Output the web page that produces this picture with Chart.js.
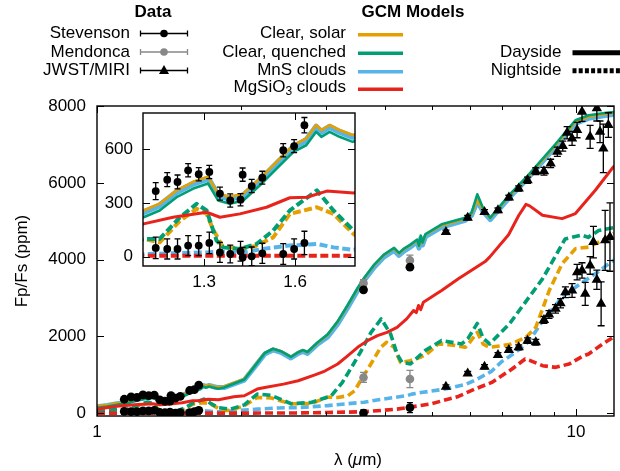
<!DOCTYPE html>
<html><head><meta charset="utf-8">
<script src="https://cdn.jsdelivr.net/npm/chart.js@4"></script>
<style>
html,body{margin:0;padding:0;background:#fff;}
#wrap{position:relative;width:620px;height:471px;overflow:hidden;}
#main{position:absolute;left:0;top:0;}
#inset{position:absolute;left:95px;top:100px;}
</style></head><body>
<div id="wrap">
<canvas id="main" width="620" height="471" style="width:620px;height:471px"></canvas>
<canvas id="inset" width="265" height="200" style="width:265px;height:200px"></canvas>
</div>
<script>
// ---------------- DATA ----------------
// GCM dayside models (solid)
const wlDay = [1.0,1.05,1.10,1.153,1.209,1.264,1.313,1.346,1.385,1.429,1.484,1.55,1.595,1.637,1.67,1.687,1.714,1.747,1.79,1.84,1.97,2.03,2.13,2.24,2.33,2.42,2.54,2.63,2.69,2.75,2.89,3.03,3.18,3.34,3.50,3.61,3.79,3.97,4.17,4.27,4.38,4.51,4.66,4.70,4.74,4.78,4.85,5.24,5.87,6.05,6.22,6.40,6.62,7.25,7.98,9.06,9.97,10.62,11.68,12.0];
const mnsDay = [170,205,248,286,360,408,436,342,323,342,426,538,613,650,725,697,725,697,669,670,804,866,1196,1545,1649,1587,1440,1561,1613,1561,1806,1990,2328,2761,3197,3458,3805,4066,4241,4111,4230,4327,4458,4300,4560,4380,4600,4850,5024,5150,5520,5250,5040,5610,6154,6937,7548,7678,7765,7780];
const solarDay = [180,215,258,296,370,418,446,352,333,352,436,548,623,660,735,707,735,707,679,700,834,896,1226,1575,1679,1617,1470,1591,1643,1591,1836,2040,2378,2811,3247,3508,3855,4116,4291,4161,4280,4377,4508,4350,4610,4430,4650,4890,5064,5190,5560,5290,5080,5650,6194,6977,7588,7718,7805,7820];
const quenchDay = [142,177,220,258,332,380,408,314,295,314,398,510,585,622,697,669,697,669,641,670,814,880,1216,1570,1680,1617,1470,1590,1645,1595,1850,2055,2393,2826,3262,3523,3870,4131,4306,4176,4295,4392,4523,4365,4625,4445,4665,4920,5094,5220,5700,5330,5090,5680,6224,7010,7630,7760,7830,7840];
const wlMgDay = [1.0,1.10,1.197,1.308,1.352,1.418,1.506,1.583,1.639,1.705,1.793,1.93,2.03,2.16,2.24,2.45,2.63,2.85,2.99,3.18,3.34,3.50,3.67,3.85,4.03,4.23,4.43,4.58,4.64,4.69,4.74,4.80,5.24,5.68,6.19,6.46,6.60,7.23,7.59,7.86,8.0,8.51,9.35,9.97,10.97,11.96,12.0];
const mgDay = [110,183,220,248,220,239,276,329,332,366,355,430,457,631,674,760,848,1000,1100,1283,1501,1718,1892,2023,2109,2239,2458,2675,2620,2806,2700,2892,3197,3502,3805,3950,4066,4650,5150,5440,5400,5155,5068,5199,5807,6415,6430];

// GCM nightside models (dashed)
const wlMnsNight = [1.0,1.10,1.20,1.31,1.36,1.42,1.50,1.58,1.672,1.727,1.79,1.9,2.16,2.4,2.63,3.03,3.61,4.1,4.44,4.54,4.75,5.33,5.9,6.2,6.67,7.0,7.5,7.86,8.2,8.51,9.35,9.97,10.97,11.96,12.0];
const mnsNight = [20,15,19,24,28,22,45,62,71,52,38,60,109,140,150,200,290,400,460,500,540,631,760,880,1100,1350,1600,1800,2100,2400,3022,3283,3633,3980,3990];
const wlSolarNight = [1.0,1.10,1.153,1.22,1.275,1.308,1.33,1.36,1.42,1.47,1.528,1.583,1.672,1.727,1.793,1.84,1.9,2.03,2.16,2.31,2.54,2.8,3.03,3.18,3.34,3.45,3.55,3.73,3.91,4.02,4.17,4.30,4.51,4.73,4.88,5.16,5.5,5.87,6.0,6.22,6.40,6.60,7.26,7.86,8.24,8.79,9.35,9.97,10.62,11.34,11.96,12.0];
const solarNight = [60,99,80,200,267,240,150,60,43,60,108,239,276,239,127,70,80,196,413,400,248,256,420,413,457,587,848,1283,1718,1848,1718,1327,1370,1457,1545,1805,1780,1718,1850,2109,1800,1718,1790,1979,2240,3197,3894,4285,4327,4502,4677,4690];
const wlQuenchNight = [1.0,1.10,1.153,1.22,1.275,1.308,1.341,1.363,1.418,1.473,1.528,1.583,1.672,1.727,1.793,1.9,2.03,2.16,2.31,2.54,2.80,3.08,3.25,3.40,3.55,3.73,3.92,4.1,4.23,4.33,4.51,4.84,5.24,5.77,5.95,6.22,6.40,6.60,7.26,8.51,9.49,10.29,10.6,11.15,11.96,12.0];
const quenchNight = [60,99,99,220,295,258,90,52,43,71,146,258,370,258,146,109,220,500,470,250,283,450,800,1200,1600,2100,2458,2067,1545,1327,1283,1631,1892,1805,1950,2340,1950,1806,2328,3500,4540,4640,4580,4760,4830,4840];
const wlMgNight = [1.0,2.0,2.6,3.0,3.61,4.23,4.96,5.68,6.15,6.67,7.35,7.83,8.0,8.51,9.06,9.67,10.3,10.62,11.35,11.96,12.0];
const mgNight = [5,5,10,20,40,109,240,440,631,805,1153,1414,1380,1240,1196,1283,1480,1545,1800,1979,1990];

// Stevenson HST/WFC3
const wfc3Wl = [1.140,1.178,1.212,1.247,1.282,1.317,1.352,1.386,1.420,1.427,1.457,1.492,1.561,1.597,1.631];
const wfc3Day = [366,430,417,482,460,473,352,314,318,458,394,441,594,617,734];
const wfc3DayErr = [47,39,39,37,37,37,36,37,34,37,37,36,37,36,43];
const wfc3Night = [49,43,43,62,62,77,24,15,30,-4,2,19,15,43,77];
const wfc3NightErr = [60,56,56,56,56,60,56,50,55,56,52,56,58,56,65];
// Spitzer (Stevenson, Mendonca)
const spitzerWl = [3.6,4.5];
const stevSpDay = [3215,3805];
const stevSpDayErr = [50,60];
const stevSpNight = [5,150];
const stevSpNightErr = [90,130];
const mendDay = [3388,3980];
const mendDayErr = [90,140];
const mendNight = [934,893];
const mendNightErr = [130,226];
// JWST/MIRI
const miriDayWl = [5.35,5.94,6.44,6.87,7.24,7.59,7.92,8.24,8.57,8.85,9.14,9.38,9.58,9.81,10.05,10.29,10.70,11.05,11.22,11.40,11.68];
const miriDay = [4719,5094,5241,5285,5617,5852,6068,6303,6303,6504,6807,6956,7303,7157,7373,7851,7198,7940,7329,6896,7504];
const miriDayErr = [50,55,60,60,60,70,80,90,100,110,120,130,160,180,200,250,300,330,280,630,320];
const miriNightWl = [5.35,5.94,6.44,6.87,7.24,7.59,7.92,8.24,8.57,8.78,9.06,9.28,9.50,9.81,10.05,10.29,10.45,10.70,10.87,11.05,11.28,11.50,11.77];
const miriNight = [692,1039,1214,1519,1650,1717,1892,1848,2432,2571,2720,2866,3153,3197,3675,3719,3111,3850,4458,3476,2850,4502,4588];
const miriNightErr = [50,50,55,60,60,65,70,75,90,100,110,120,140,180,200,200,300,230,410,250,570,780,890];

// ticks
const mainXLabels = [1,10];
const mainXMinor = [2,3,4,5,6,7,8,9];
const mainYTicks = [0,2000,4000,6000,8000];
const insetXTicks = [1.3,1.6];
const insetYTicks = [0,300,600];

// ---------------- STYLE ----------------
const FONT = '"Liberation Sans", Arial, Helvetica, sans-serif';
const C_ORANGE='#E69F00', C_GREEN='#009E73', C_BLUE='#56B4E9', C_RED='#E8231B', C_GRAY='#888888';
Chart.defaults.font.family = FONT;
Chart.defaults.color = '#000';

function pts(xs, ys){ return xs.map((x,i)=>({x:x, y:ys[i]})); }
function lineDs(xs, ys, color, width, dash, order){
  return {data:pts(xs,ys), showLine:true, borderColor:color, backgroundColor:color, borderWidth:width,
    borderDash:dash||[], borderCapStyle:dash?'butt':'round', borderJoinStyle:'round',
    pointRadius:0, pointHoverRadius:0, fill:false, tension:0, order:order, clip:0};
}
function ptDs(xs, ys, errs, color, style, radius, cap, order){
  return {data:pts(xs,ys), showLine:false, pointStyle:style, pointRadius:radius, pointHoverRadius:radius,
    pointBackgroundColor:color, pointBorderColor:color, pointBorderWidth:0,
    errs:errs, ebColor:color, cap:cap, order:order};
}

const errPlugin = {
  id:'errbars',
  beforeDatasetDraw(chart, args){
    const ds = chart.data.datasets[args.index];
    if(!ds.errs) return;
    const ctx = chart.ctx, a = chart.chartArea, xs = chart.scales.x, ys = chart.scales.y;
    ctx.save();
    ctx.beginPath(); ctx.rect(a.left, a.top, a.right-a.left, a.bottom-a.top); ctx.clip();
    ctx.strokeStyle = ds.ebColor; ctx.lineWidth = 1.3;
    ds.data.forEach((p,i)=>{
      const e = ds.errs[i];
      const x = xs.getPixelForValue(p.x);
      const y1 = ys.getPixelForValue(p.y - e), y2 = ys.getPixelForValue(p.y + e);
      const c = ds.cap;
      ctx.beginPath();
      ctx.moveTo(x,y1); ctx.lineTo(x,y2);
      ctx.moveTo(x-c,y1); ctx.lineTo(x+c,y1);
      ctx.moveTo(x-c,y2); ctx.lineTo(x+c,y2);
      ctx.stroke();
    });
    ctx.restore();
  }
};

function framePlugin(opt){
  return {
    id:'frame',
    beforeDraw(chart){
      const ctx = chart.ctx, a = chart.chartArea;
      ctx.save(); ctx.fillStyle = '#fff';
      if(opt.fillAll) ctx.fillRect(0,0,chart.width,chart.height);
      else ctx.fillRect(a.left,a.top,a.right-a.left,a.bottom-a.top);
      ctx.restore();
    },
    afterDraw(chart){
      const ctx = chart.ctx, a = chart.chartArea, xs = chart.scales.x, ys = chart.scales.y;
      ctx.save();
      ctx.strokeStyle = '#000'; ctx.lineWidth = 1;
      ctx.beginPath();
      opt.xMajor.forEach(v=>{ const p = Math.round(xs.getPixelForValue(v))+0.5;
        ctx.moveTo(p,a.bottom); ctx.lineTo(p,a.bottom-7); ctx.moveTo(p,a.top); ctx.lineTo(p,a.top+7); });
      (opt.xMinor||[]).forEach(v=>{ const p = Math.round(xs.getPixelForValue(v))+0.5;
        ctx.moveTo(p,a.bottom); ctx.lineTo(p,a.bottom-4); ctx.moveTo(p,a.top); ctx.lineTo(p,a.top+4); });
      opt.yMajor.forEach(v=>{ const p = Math.round(ys.getPixelForValue(v))+0.5;
        ctx.moveTo(a.left,p); ctx.lineTo(a.left+7,p); ctx.moveTo(a.right,p); ctx.lineTo(a.right-7,p); });
      ctx.stroke();
      ctx.lineWidth = 1.4;
      ctx.strokeRect(a.left, a.top, a.right-a.left, a.bottom-a.top);
      // tick labels
      ctx.fillStyle = '#000'; ctx.font = '17px ' + FONT; ctx.textBaseline = 'middle';
      ctx.textAlign = 'center';
      opt.xMajor.forEach(v=>{ ctx.fillText(opt.xFmt(v), xs.getPixelForValue(v), a.bottom + opt.xLabOff); });
      ctx.textAlign = 'right';
      opt.yMajor.forEach(v=>{ ctx.fillText(String(v), a.left - opt.yLabOff, ys.getPixelForValue(v)); });
      ctx.restore();
      if(opt.extra) opt.extra(chart);
    }
  };
}

function drawLegendAndTitles(chart){
  const ctx = chart.ctx;
  ctx.save();
  ctx.fillStyle = '#000'; ctx.textBaseline = 'middle';
  ctx.font = 'bold 17px ' + FONT; ctx.textAlign = 'center';
  ctx.fillText('Data', 153, 12);
  ctx.fillText('GCM Models', 413, 12);
  ctx.font = '17px ' + FONT; ctx.textAlign = 'right';
  const dataRows = [['Stevenson',33.5,'#000','circle'],['Mendonca',52,C_GRAY,'circle'],['JWST/MIRI',70.5,'#000','triangle']];
  dataRows.forEach(r=>{
    const y = r[1];
    ctx.fillStyle = '#000'; ctx.fillText(r[0], 130, y);
    ctx.strokeStyle = r[2]; ctx.fillStyle = r[2]; ctx.lineWidth = 1.3;
    ctx.beginPath();
    ctx.moveTo(140.5,y); ctx.lineTo(187.5,y);
    ctx.moveTo(140.5,y-3); ctx.lineTo(140.5,y+3);
    ctx.moveTo(187.5,y-3); ctx.lineTo(187.5,y+3);
    ctx.stroke();
    ctx.beginPath();
    if(r[3]==='circle'){ ctx.arc(164,y,3.8,0,Math.PI*2); }
    else { ctx.moveTo(164,y-5.5); ctx.lineTo(169,y+3.5); ctx.lineTo(159,y+3.5); ctx.closePath(); }
    ctx.fill();
  });
  const modelRows = [['Clear, solar',33.5,C_ORANGE],['Clear, quenched',52,C_GREEN],['MnS clouds',70.5,C_BLUE]];
  modelRows.forEach(r=>{
    ctx.fillStyle = '#000'; ctx.textAlign='right'; ctx.fillText(r[0], 346, r[1]);
    ctx.strokeStyle = r[2]; ctx.lineWidth = 3.5; ctx.beginPath();
    ctx.moveTo(358,r[1]+1.3); ctx.lineTo(403,r[1]+1.3); ctx.stroke();
  });
  // MgSiO3 with subscript
  const y4 = 87;
  const f1 = '17px ' + FONT, f2 = '12px ' + FONT;
  ctx.font = f1; const w1 = ctx.measureText('MgSiO').width, w3 = ctx.measureText(' clouds').width;
  ctx.font = f2; const w2 = ctx.measureText('3').width;
  let x0 = 346 - (w1+w2+w3);
  ctx.textAlign = 'left'; ctx.fillStyle = '#000';
  ctx.font = f1; ctx.fillText('MgSiO', x0, y4);
  ctx.font = f2; ctx.fillText('3', x0+w1, y4+5);
  ctx.font = f1; ctx.fillText(' clouds', x0+w1+w2, y4);
  ctx.strokeStyle = C_RED; ctx.lineWidth = 3.5; ctx.beginPath();
  ctx.moveTo(358,89.3); ctx.lineTo(403,89.3); ctx.stroke();
  // Dayside / Nightside
  ctx.textAlign = 'right'; ctx.font = f1; ctx.fillStyle = '#000';
  ctx.fillText('Dayside', 561.5, 52);
  ctx.fillText('Nightside', 561.5, 70.5);
  ctx.strokeStyle = '#000'; ctx.lineWidth = 5;
  ctx.beginPath(); ctx.moveTo(572.5,52.7); ctx.lineTo(620,52.7); ctx.stroke();
  ctx.setLineDash([4,2.2]); ctx.beginPath(); ctx.moveTo(572.5,70.7); ctx.lineTo(620,70.7); ctx.stroke();
  ctx.setLineDash([]);
  // axis titles
  ctx.fillStyle = '#000'; ctx.font = f1; ctx.textAlign = 'center';
  ctx.save(); ctx.translate(22, 261); ctx.rotate(-Math.PI/2); ctx.fillText('Fp/Fs (ppm)', 0, 0); ctx.restore();
  const fi = 'italic 17px ' + FONT;
  ctx.font = f1; const a1 = ctx.measureText('λ (').width, a3 = ctx.measureText('m)').width;
  ctx.font = fi; const a2 = ctx.measureText('μ').width;
  const xs0 = 358 - (a1+a2+a3)/2;
  ctx.textAlign = 'left';
  ctx.font = f1; ctx.fillText('λ (', xs0, 460);
  ctx.font = fi; ctx.fillText('μ', xs0+a1, 460);
  ctx.font = f1; ctx.fillText('m)', xs0+a1+a2, 460);
  ctx.restore();
}

function modelDatasets(inset){
  const dash = inset ? [8,3.5] : [8,4];
  const dw = inset ? 4 : 3.6;
  return [
    lineDs(wlMnsNight, mnsNight, C_BLUE, dw, dash, 20),
    lineDs(wlSolarNight, solarNight, C_ORANGE, dw, dash, 19),
    lineDs(wlQuenchNight, quenchNight, C_GREEN, dw, dash, 18),
    lineDs(wlMgNight, mgNight, C_RED, dw, dash, 17),
    lineDs(wlDay, mnsDay, C_BLUE, inset?6:5, null, 16),
    lineDs(wlDay, solarDay, C_ORANGE, 2.6, null, 15),
    lineDs(wlDay, quenchDay, C_GREEN, 2.6, null, 14),
    lineDs(wlMgDay, mgDay, C_RED, 3, null, 13)
  ];
}

const stevWl = wfc3Wl.concat(spitzerWl);
const stevDay = wfc3Day.concat(stevSpDay);
const stevDayErr = wfc3DayErr.concat(stevSpDayErr);
const stevNight = wfc3Night.concat(stevSpNight);
const stevNightErr = wfc3NightErr.concat(stevSpNightErr);

const mainDatasets = modelDatasets(false).concat([
  ptDs(spitzerWl, mendDay, mendDayErr, C_GRAY, 'circle', 4.3, 3.5, 12),
  ptDs(spitzerWl, mendNight, mendNightErr, C_GRAY, 'circle', 4.3, 3.5, 11),
  ptDs(miriDayWl, miriDay, miriDayErr, '#000', 'triangle', 6, 3.5, 10),
  ptDs(miriNightWl, miriNight, miriNightErr, '#000', 'triangle', 6, 3.5, 9),
  ptDs(stevWl, stevDay, stevDayErr, '#000', 'circle', 4.4, 3, 8),
  ptDs(stevWl, stevNight, stevNightErr, '#000', 'circle', 4.4, 3, 7)
]);

const hiddenTicks = {display:false};

new Chart(document.getElementById('main'), {
  type:'scatter',
  data:{datasets: mainDatasets},
  options:{
    responsive:false, animation:false, devicePixelRatio:1, events:[],
    layout:{padding:{top:106, right:1, left:0, bottom:0}},
    plugins:{legend:{display:false}, tooltip:{enabled:false}},
    scales:{
      x:{type:'logarithmic', min:1, max:12,
        grid:{display:false, drawTicks:false}, border:{display:false},
        afterFit:s=>{ s.height = 55; }, ticks:hiddenTicks},
      y:{type:'linear', min:-70, max:8000,
        grid:{display:false, drawTicks:false}, border:{display:false},
        afterFit:s=>{ s.width = 97; }, ticks:hiddenTicks}
    }
  },
  plugins:[errPlugin, framePlugin({fillAll:true, xMajor:mainXLabels, xMinor:mainXMinor, yMajor:mainYTicks,
    xFmt:v=>String(v), xLabOff:16, yLabOff:11, extra:drawLegendAndTitles})]
});

const insetDatasets = modelDatasets(true).concat([
  ptDs(wfc3Wl, wfc3Day, wfc3DayErr, '#000', 'circle', 3.9, 3, 8),
  ptDs(wfc3Wl, wfc3Night, wfc3NightErr, '#000', 'circle', 3.9, 3, 7)
]);

new Chart(document.getElementById('inset'), {
  type:'scatter',
  data:{datasets: insetDatasets},
  options:{
    responsive:false, animation:false, devicePixelRatio:1, events:[],
    layout:{padding:{top:13, right:5, left:0, bottom:0}},
    plugins:{legend:{display:false}, tooltip:{enabled:false}},
    scales:{
      x:{type:'linear', min:1.098, max:1.798,
        grid:{display:false, drawTicks:false}, border:{display:false},
        afterFit:s=>{ s.height = 34; }, ticks:hiddenTicks},
      y:{type:'linear', min:-52, max:802,
        grid:{display:false, drawTicks:false}, border:{display:false},
        afterFit:s=>{ s.width = 48; }, ticks:hiddenTicks}
    }
  },
  plugins:[errPlugin, framePlugin({fillAll:false, xMajor:insetXTicks, yMajor:insetYTicks,
    xFmt:v=>v.toFixed(1), xLabOff:16, yLabOff:10})]
});
</script>
</body></html>
